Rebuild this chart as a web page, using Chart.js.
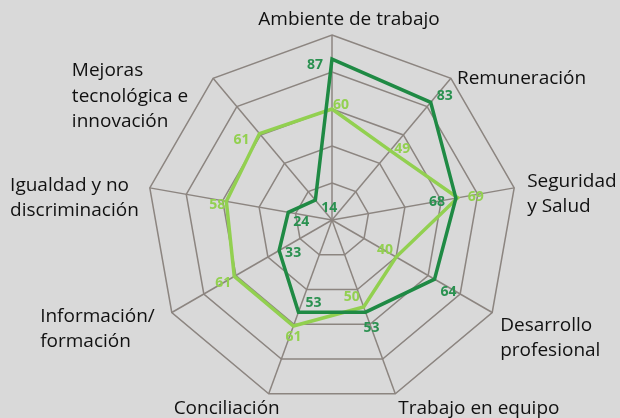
<!DOCTYPE html>
<html>
<head>
<meta charset="utf-8">
<script src="https://cdn.jsdelivr.net/npm/chart.js@4/dist/chart.umd.min.js"></script>
<style>
  html, body { margin: 0; padding: 0; background: #d9d9d9; }
  canvas { display: block; }
</style>
</head>
<body>
<canvas id="chart" width="620" height="418"></canvas>
<script>
// axis categories (clockwise from the top)
const categories = [
  ["Ambiente de trabajo"],
  ["Remuneración"],
  ["Seguridad", "y Salud"],
  ["Desarrollo", "profesional"],
  ["Trabajo en equipo"],
  ["Conciliación"],
  ["Información/", "formación"],
  ["Igualdad y no", "discriminación"],
  ["Mejoras", "tecnológica e", "innovación"],
];
const seriesDark  = [87, 83, 68, 64, 53, 53, 33, 24, 14];
const seriesLight = [60, 49, 69, 40, 50, 61, 61, 58, 61];
const scaleTicks  = [0, 20, 40, 60, 80, 100];

const DARK  = "#1f8a44";
const LIGHT = "#92d050";
const GRID  = "#8c8580";
const FONT  = "'Open Sans', 'Liberation Sans', sans-serif";

// label nudges: [alignX, alignY, dx, dy] relative to each outer vertex
const axisLabelPlace = [
  ["center", "middle", 17, -15],
  ["left",   "middle",  6,   0],
  ["left",   "middle", 13,   6],
  ["left",   "top",     8,   0],
  ["left",   "top",     3,   2],
  ["right",  "top",    11,   2],
  ["right",  "top",   -17,  -9],
  ["right",  "middle",-11,  10],
  ["right",  "middle",-25,  18],
];
// data label offsets from each point, per dataset
const valueLabelOffsets = [
  [[-17, 6], [14, -6], [-19, 4], [14, 13], [6, 16], [15, -9], [14, 2], [13, 10], [14, 8]],
  [[9, -4], [12, -2], [18, -1], [-11, -7], [-12, -10], [0, 11], [-11, 7], [-9, 4], [-18, 6]],
];

const axisLabels = {
  id: "axisLabels",
  afterDraw(chart) {
    const scale = chart.scales.r;
    const ctx = chart.ctx;
    const lh = 25.5;
    ctx.save();
    ctx.font = "19px " + FONT;
    ctx.fillStyle = "#111";
    ctx.textBaseline = "middle";
    ctx.textAlign = "left";
    categories.forEach((lines, i) => {
      const p = scale.getPointPosition(i, scale.drawingArea);
      const [ax, ay, dx, dy] = axisLabelPlace[i];
      const w = Math.max(...lines.map(l => ctx.measureText(l).width));
      const h = lines.length * lh;
      let left = p.x + dx;
      if (ax === "center") left -= w / 2;
      if (ax === "right") left -= w;
      let top = p.y + dy;
      if (ay === "middle") top -= h / 2;
      if (ay === "bottom") top -= h;
      lines.forEach((l, j) => ctx.fillText(l, left, top + lh * j + lh / 2));
    });
    ctx.restore();
  },
};

const valueLabels = {
  id: "valueLabels",
  afterDatasetsDraw(chart) {
    const ctx = chart.ctx;
    ctx.save();
    ctx.font = "bold 14px " + FONT;
    ctx.textAlign = "center";
    ctx.textBaseline = "middle";
    chart.data.datasets.forEach((ds, di) => {
      ctx.fillStyle = ds.labelColor;
      chart.getDatasetMeta(di).data.forEach((pt, i) => {
        const [dx, dy] = valueLabelOffsets[di][i];
        ctx.fillText(String(ds.data[i]), pt.x + dx, pt.y + dy);
      });
    });
    ctx.restore();
  },
};

new Chart(document.getElementById("chart"), {
  type: "radar",
  data: {
    labels: categories,
    datasets: [
      { label: "A", data: seriesDark, borderColor: DARK, labelColor: "#2a9150",
        borderWidth: 3.5, pointRadius: 0, fill: false, tension: 0 },
      { label: "B", data: seriesLight, borderColor: LIGHT, labelColor: LIGHT,
        borderWidth: 3.5, pointRadius: 0, fill: false, tension: 0 },
    ],
  },
  options: {
    responsive: false,
    animation: false,
    layout: { padding: { left: 147, top: 35, right: 103, bottom: 13 } },
    plugins: { legend: { display: false }, tooltip: { enabled: false } },
    elements: { line: { borderJoinStyle: "miter" } },
    scales: {
      r: {
        min: scaleTicks[0],
        max: scaleTicks[scaleTicks.length - 1],
        ticks: { display: false, stepSize: scaleTicks[1] - scaleTicks[0] },
        grid: { color: GRID, lineWidth: 1.5 },
        angleLines: { color: GRID, lineWidth: 1.5 },
        pointLabels: { display: false },
      },
    },
  },
  plugins: [axisLabels, valueLabels],
});
</script>
</body>
</html>
